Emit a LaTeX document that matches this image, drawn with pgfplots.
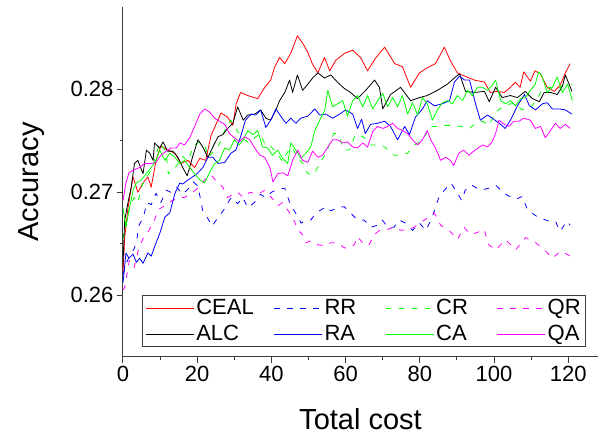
\documentclass[border=0pt]{standalone}
\usepackage{fontspec}
\setmainfont{Liberation Sans}
\usepackage{xcolor}
\usepackage{pgfplots}
\pgfplotsset{compat=1.18}
\usetikzlibrary{calc}
\definecolor{cRed}{RGB}{255,0,0}
\definecolor{cBlue}{RGB}{0,0,255}
\definecolor{cGreen}{RGB}{0,255,0}
\definecolor{cMag}{RGB}{255,0,255}
\definecolor{cBlk}{RGB}{0,0,0}
\definecolor{cFrame}{RGB}{60,60,60}

\begin{document}
\begin{tikzpicture}
\begin{axis}[
  name=ax,
  scale only axis, width=475pt, height=350pt,
  xmin=0, xmax=128, ymin=0.254, ymax=0.288,
  axis lines=left, axis line style={-, line width=1pt, cFrame},
  tick align=outside, tick style={line width=1pt, cFrame},
  major tick length=6pt, minor tick length=3pt,
  xtick={0,20,...,120}, minor x tick num=1,
  ytick={0.26,0.27,0.28}, minor y tick num=1,
  scaled y ticks=false,
  yticklabel style={/pgf/number format/fixed, /pgf/number format/fixed zerofill, /pgf/number format/precision=2},
  /pgf/number format/assume math mode=true,
  tick label style={font=\fontsize{22}{26}\selectfont},
  xlabel={Total cost}, ylabel={Accuracy},
  every axis x label/.style={at={(axis description cs:0.5,-0.177)}, anchor=center,
    font=\fontsize{29}{34}\selectfont},
  every axis y label/.style={at={(axis description cs:-0.192,0.5)}, anchor=center, rotate=90,
    font=\fontsize{29}{34}\selectfont},
  legend columns=4,
  legend style={at={(axis description cs:0.040,0.029)}, anchor=south west,
    draw=cFrame, line width=1pt, font=\fontsize{22}{26}\selectfont, text=cBlk,
    row sep=5pt,
    /tikz/column 2/.style={column sep=18pt},
    /tikz/column 4/.style={column sep=27pt},
    /tikz/column 6/.style={column sep=27pt}},
  legend cell align=left,
  legend image code/.code={\draw[#1, line width=0.8pt] (0pt,0pt) -- (48pt,0pt);},
  every axis plot/.append style={line width=0.8pt, line join=round},
  dashed line/.style={dash pattern=on 5.5pt off 7.5pt},
]
% CEAL
\addplot[color=cRed] coordinates {
(0,0.2620) (0.45,0.2656) (1.35,0.2685) (2.7,0.2715) (4,0.2700) (5.4,0.2709) (6.7,0.2715) (7.6,0.2705)
(8.9,0.2731) (10.2,0.2745) (12,0.2741) (14,0.2738) (15.6,0.2728) (17.5,0.2731) (19.3,0.2724) (20.7,0.2733)
(22.3,0.2731) (23.7,0.2755) (24.7,0.2763) (26.4,0.2777) (28.2,0.2773) (29.6,0.2765) (30.5,0.2786) (31.7,0.2797)
(33.6,0.2794) (36.3,0.2791) (38.2,0.2802) (39.8,0.2809) (40.8,0.2821) (42.2,0.2831) (43.6,0.2825) (45.2,0.2835)
(47,0.2852) (48.4,0.2845) (49.8,0.2836) (51,0.2825) (52.5,0.2816) (54.3,0.2831) (55.7,0.2818) (57.3,0.2828)
(59.7,0.2835) (61.9,0.2838) (64,0.2831) (65.9,0.2818) (68,0.2830) (70.5,0.2841) (73.2,0.2825) (75.3,0.2822)
(77.5,0.2802) (79.9,0.2816) (82,0.2821) (84.2,0.2825) (86.6,0.2841) (88.2,0.2828) (90.1,0.2816) (92,0.2813)
(94.7,0.2809) (97.4,0.2807) (99,0.2797) (100.9,0.2798) (102.8,0.2797) (104.4,0.2802) (105.7,0.2807) (107,0.2802)
(108,0.2817) (109.8,0.2808) (111,0.2818) (112.5,0.2815) (114.3,0.2802) (116.2,0.2798) (117.8,0.2804) (119.2,0.2816)
(120.5,0.2825)};
\addlegendentry{CEAL}
% RR
\addplot[color=cBlue, dashed line] coordinates {
(0,0.2620) (1,0.2632) (2,0.2640) (3,0.2645) (3.7,0.2653) (4.3,0.2668) (5.4,0.2675) (6.5,0.2690) (7.6,0.2688)
(8.9,0.2699) (10.2,0.2690) (11.7,0.2702) (12.9,0.2700) (14.5,0.2705) (16,0.2698) (17.5,0.2703) (19,0.2710)
(20.2,0.2706) (21.5,0.2682) (22.8,0.2675) (24,0.2667) (25.5,0.2675) (27.4,0.2684) (29.1,0.2695) (30.9,0.2689)
(32.3,0.2695) (33.6,0.2685) (35.4,0.2690) (37,0.2698) (38.5,0.2695) (40,0.2700) (41.7,0.2703) (43.6,0.2704)
(45,0.2689) (46.5,0.2680) (48,0.2670) (49.3,0.2673) (50.6,0.2673) (52,0.2680) (53.4,0.2683) (54.7,0.2686)
(56,0.2682) (57.8,0.2685) (59.6,0.2686) (61.3,0.2680) (63.2,0.2673) (65,0.2673) (66.7,0.2666) (68.6,0.2668)
(69.9,0.2673) (71.3,0.2666) (73,0.2666) (74.4,0.2673) (76.2,0.2670) (78,0.2663) (79.9,0.2670) (81.6,0.2663)
(83,0.2673) (84,0.2683) (85.2,0.2696) (86.6,0.2702) (88.4,0.2709) (89.6,0.2702) (91.3,0.2692) (92.2,0.2702)
(94,0.2707) (96.3,0.2702) (98.6,0.2704) (100.4,0.2707) (103.1,0.2698) (105.8,0.2693) (107.6,0.2696) (109,0.2683)
(111.7,0.2676) (114.7,0.2672) (116.5,0.2672) (117.8,0.2662) (119.6,0.2672) (120.5,0.2668)};
\addlegendentry{RR}
% CR
\addplot[color=cGreen, dashed line] coordinates {
(0,0.2655) (1,0.2675) (2,0.2688) (3,0.2695) (4,0.2690) (5,0.2705) (6,0.2713) (7,0.2718) (8,0.2725)
(9,0.2738) (9.9,0.2748) (11.5,0.2740) (12.2,0.2718) (13.5,0.2722) (14.5,0.2726) (16,0.2735) (17.5,0.2730)
(19,0.2745) (20.5,0.2749) (22,0.2746) (23,0.2734) (24.5,0.2740) (25.6,0.2744) (27.4,0.2760) (29,0.2770)
(30.9,0.2759) (32.5,0.2752) (34,0.2748) (35.5,0.2753) (37,0.2757) (38.5,0.2745) (40,0.2744) (41.5,0.2738)
(43,0.2730) (44.5,0.2740) (45.5,0.2744) (47,0.2734) (48.5,0.2728) (49.8,0.2718) (51.4,0.2717) (53,0.2728)
(54.7,0.2738) (56.8,0.2757) (57.8,0.2757) (59.6,0.2741) (61,0.2741) (62.6,0.2756) (64,0.2755) (65,0.2753)
(66.7,0.2746) (68.6,0.2746) (70.5,0.2744) (73,0.2736) (75,0.2736) (76.7,0.2738) (78.5,0.2746) (80.7,0.2751)
(82.9,0.2764) (84.7,0.2764) (86.5,0.2765) (89,0.2765) (91,0.2764) (93.4,0.2762) (95,0.2767) (96.9,0.2769)
(98.7,0.2765) (100,0.2776) (101.5,0.2781) (103,0.2784) (104.5,0.2786) (106,0.2786) (107.5,0.2780) (110,0.2783)
(111.5,0.2790) (113,0.2800) (115,0.2802) (117,0.2800) (119,0.2805) (121,0.2805)};
\addlegendentry{CR}
% QR
\addplot[color=cMag, dashed line] coordinates {
(0,0.2605) (0.5,0.2608) (1.7,0.2634) (3,0.2627) (4.2,0.2645) (5.4,0.2655) (6.7,0.2661) (8.5,0.2673)
(9.4,0.2683) (11.3,0.2687) (13.3,0.2692) (15.3,0.2695) (16.6,0.2695) (18,0.2698) (20.2,0.2704) (22,0.2712)
(23.7,0.2717) (25.6,0.2709) (26.9,0.2705) (28.2,0.2695) (29.6,0.2698) (30.9,0.2700) (32.4,0.2695) (34.2,0.2700)
(36.3,0.2698) (38.2,0.2702) (40,0.2695) (41.7,0.2687) (43,0.2690) (44.9,0.2680) (46.3,0.2671) (47.1,0.2663)
(48.4,0.2659) (49.3,0.2651) (50.6,0.2653) (52.5,0.2649) (54.3,0.2648) (56,0.2651) (57.8,0.2651) (59.6,0.2646)
(61,0.2646) (62.3,0.2649) (63.2,0.2657) (65,0.2649) (66.3,0.2649) (67.7,0.2659) (69.5,0.2664) (71.3,0.2664)
(73.1,0.2666) (74.9,0.2663) (76.7,0.2664) (78.5,0.2666) (79.8,0.2670) (81.2,0.2673) (82.5,0.2676) (83.9,0.2680)
(85.6,0.2668) (87.9,0.2663) (90.1,0.2654) (91.9,0.2666) (93.7,0.2659) (95.5,0.2661) (97.3,0.2664) (98.6,0.2649)
(100.4,0.2644) (103.1,0.2654) (105.8,0.2644) (108.5,0.2656) (111.2,0.2651) (113.9,0.2643) (115.7,0.2636) (118,0.2643)
(120.5,0.2638)};
\addlegendentry{QR}
% ALC
\addplot[color=cBlk] coordinates {
(0,0.2630) (0.45,0.2673) (1.35,0.2690) (2.2,0.2705) (3.1,0.2728) (4,0.2731) (5.4,0.2718) (6.3,0.2741)
(7.2,0.2738) (8.1,0.2731) (8.5,0.2748) (9.9,0.2743) (10.8,0.2749) (12,0.2740) (13.4,0.2740) (14.8,0.2734)
(16.1,0.2724) (17.3,0.2716) (18.8,0.2735) (20.2,0.2751) (21.5,0.2744) (22.9,0.2734) (24.2,0.2744) (25.6,0.2754)
(26.9,0.2756) (28.2,0.2762) (29.6,0.2767) (30.9,0.2783) (32.4,0.2770) (33.6,0.2775) (35.5,0.2776) (37.1,0.2780)
(38.5,0.2772) (39.8,0.2770) (41.2,0.2780) (42.2,0.2789) (43.6,0.2797) (44.9,0.2809) (45.7,0.2797) (47,0.2814)
(48.4,0.2799) (49.8,0.2805) (51.1,0.2811) (52.5,0.2816) (54.3,0.2811) (56,0.2814) (57.8,0.2807) (59.6,0.2801)
(61.3,0.2797) (63.2,0.2791) (65.4,0.2799) (67.8,0.2809) (69.1,0.2802) (70,0.2781) (72.1,0.2795) (74.8,0.2802)
(77.5,0.2789) (79.9,0.2792) (82,0.2794) (84.7,0.2799) (87.4,0.2805) (89.6,0.2812) (90.7,0.2815) (92.3,0.2798)
(94.7,0.2797) (97.4,0.2798) (98.7,0.2788) (100.4,0.2802) (102.2,0.2792) (104.4,0.2794) (106.3,0.2792) (108.4,0.2798)
(110.3,0.2791) (112.2,0.2788) (113.5,0.2797) (115.2,0.2797) (117,0.2795) (118.4,0.2803) (119.2,0.2814) (121,0.2798)};
\addlegendentry{ALC}
% RA
\addplot[color=cBlue] coordinates {
(0,0.2612) (0.8,0.2641) (1.6,0.2636) (2.7,0.2640) (3.6,0.2632) (4.5,0.2636) (5.4,0.2631) (6.7,0.2641)
(7.6,0.2638) (8.5,0.2647) (9.9,0.2660) (11.3,0.2676) (12.6,0.2680) (14,0.2699) (15.3,0.2709) (16.1,0.2708)
(17.5,0.2712) (18.8,0.2715) (20.2,0.2719) (21.5,0.2724) (22.9,0.2734) (24.2,0.2734) (25.6,0.2728) (27.4,0.2729)
(29.1,0.2738) (30.4,0.2741) (31.7,0.2754) (33,0.2770) (34.5,0.2776) (35.8,0.2775) (37.1,0.2780) (38.5,0.2763)
(39.8,0.2770) (41.2,0.2781) (42.5,0.2774) (43.9,0.2767) (45.2,0.2772) (46.6,0.2767) (47.9,0.2772) (49.8,0.2774)
(51.7,0.2781) (53,0.2775) (54.6,0.2776) (56.5,0.2772) (58.4,0.2776) (60,0.2780) (61.9,0.2776) (63.2,0.2762)
(64.3,0.2771) (65.3,0.2757) (66.7,0.2766) (68.6,0.2767) (70.5,0.2769) (72.1,0.2764) (74,0.2751) (75.9,0.2764)
(77.2,0.2756) (78.8,0.2773) (80.7,0.2781) (82,0.2789) (83.9,0.2784) (86.1,0.2786) (88,0.2789) (89.3,0.2807)
(90.7,0.2813) (92,0.2809) (93.4,0.2809) (95,0.2786) (96.3,0.2770) (98.2,0.2775) (99.5,0.2772) (101.4,0.2767)
(103,0.2762) (104.4,0.2770) (106.3,0.2784) (108.2,0.2795) (109.5,0.2784) (111.2,0.2780) (113,0.2786) (114.3,0.2787)
(115.7,0.2781) (117.6,0.2781) (119.2,0.2780) (121,0.2776)};
\addlegendentry{RA}
% CA
\addplot[color=cGreen] coordinates {
(0,0.2685) (0.8,0.2666) (1.6,0.2682) (2.7,0.2702) (3.6,0.2709) (4.9,0.2712) (6.3,0.2718) (7.6,0.2724)
(8.9,0.2731) (9.9,0.2741) (11.3,0.2731) (12.6,0.2738) (14,0.2734) (15.3,0.2728) (16.6,0.2731) (18,0.2724)
(19.3,0.2718) (20.7,0.2712) (22,0.2709) (23.3,0.2719) (24.7,0.2728) (26,0.2731) (27.4,0.2743) (28.7,0.2741)
(30,0.2751) (31.3,0.2746) (32.4,0.2751) (33.6,0.2760) (35,0.2756) (36.3,0.2760) (37.6,0.2744) (39,0.2743)
(40.3,0.2736) (41.7,0.2741) (43,0.2733) (44.4,0.2728) (45.2,0.2748) (46.6,0.2741) (47.9,0.2733) (49.3,0.2738)
(50.6,0.2744) (51.7,0.2760) (53,0.2770) (54.4,0.2780) (55.2,0.2799) (56.5,0.2783) (57.8,0.2786) (59.2,0.2789)
(60.5,0.2774) (61.9,0.2789) (63.2,0.2794) (64.6,0.2783) (65.9,0.2794) (67.3,0.2781) (68.6,0.2789) (70,0.2796)
(71.3,0.2783) (72.7,0.2792) (74,0.2783) (75.3,0.2794) (76.7,0.2776) (78,0.2787) (79.4,0.2775) (80.7,0.2792)
(82,0.2786) (83.4,0.2770) (84.7,0.2780) (86.1,0.2787) (87.4,0.2789) (88.8,0.2786) (90.1,0.2794) (91.5,0.2789)
(92.8,0.2799) (94.2,0.2794) (95.5,0.2802) (96.9,0.2802) (98.2,0.2799) (99.5,0.2804) (100.4,0.2809) (101.8,0.2789)
(103.1,0.2786) (104.4,0.2789) (105.8,0.2784) (107.1,0.2791) (108.4,0.2792) (109.8,0.2799) (111.1,0.2805) (112,0.2817)
(112.9,0.2813) (114.3,0.2797) (115.7,0.2802) (117,0.2812) (118.4,0.2797) (119.8,0.2805) (121.1,0.2789)};
\addlegendentry{CA}
% QA
\addplot[color=cMag] coordinates {
(0,0.2692) (0.8,0.2709) (1.6,0.2719) (3.1,0.2722) (4.5,0.2724) (5.8,0.2728) (7.6,0.2728) (8.9,0.2729)
(10.2,0.2736) (11.7,0.2740) (12.9,0.2743) (14.4,0.2743) (15.3,0.2748) (16.6,0.2746) (18,0.2753) (19.3,0.2764)
(20.7,0.2776) (22,0.2781) (23.3,0.2778) (24.7,0.2772) (26,0.2769) (27.4,0.2766) (28.7,0.2757) (30,0.2753)
(31.3,0.2749) (32.8,0.2754) (34.2,0.2751) (35.5,0.2743) (36.9,0.2736) (38.2,0.2734) (39.6,0.2724) (40.4,0.2710)
(41.7,0.2718) (43,0.2719) (44.4,0.2716) (45.7,0.2731) (47.1,0.2741) (48.4,0.2731) (49.8,0.2729) (51.1,0.2740)
(52.5,0.2734) (53.8,0.2736) (55.2,0.2744) (56.5,0.2751) (57.8,0.2751) (59.2,0.2748) (60.5,0.2749) (61.9,0.2744)
(63.2,0.2743) (64.6,0.2748) (65.9,0.2744) (67.3,0.2759) (68.6,0.2764) (70,0.2762) (71.3,0.2764) (72.7,0.2767)
(74,0.2762) (75.3,0.2760) (76.7,0.2757) (78,0.2751) (79.4,0.2746) (80.7,0.2751) (82,0.2760) (82.9,0.2751)
(84.2,0.2743) (85.6,0.2731) (86.9,0.2734) (88.2,0.2731) (89.1,0.2726) (90.5,0.2738) (91.8,0.2741) (93.2,0.2736)
(94.5,0.2740) (96.9,0.2746) (98.2,0.2744) (99.5,0.2749) (100.4,0.2757) (101.3,0.2770) (102.7,0.2766) (104,0.2764)
(105.3,0.2769) (106.7,0.2769) (108,0.2772) (109.8,0.2770) (111.1,0.2762) (112.5,0.2764) (113.8,0.2753) (115.2,0.2760)
(116.5,0.2767) (117.8,0.2762) (119.2,0.2766) (120.5,0.2762)};
\addlegendentry{QA}
\end{axis}
\pgfresetboundingbox
\path[use as bounding box] ($(ax.south west)+(-123pt,-78pt)$) rectangle ($(ax.north east)+(0pt,7pt)$);
\end{tikzpicture}
\end{document}
